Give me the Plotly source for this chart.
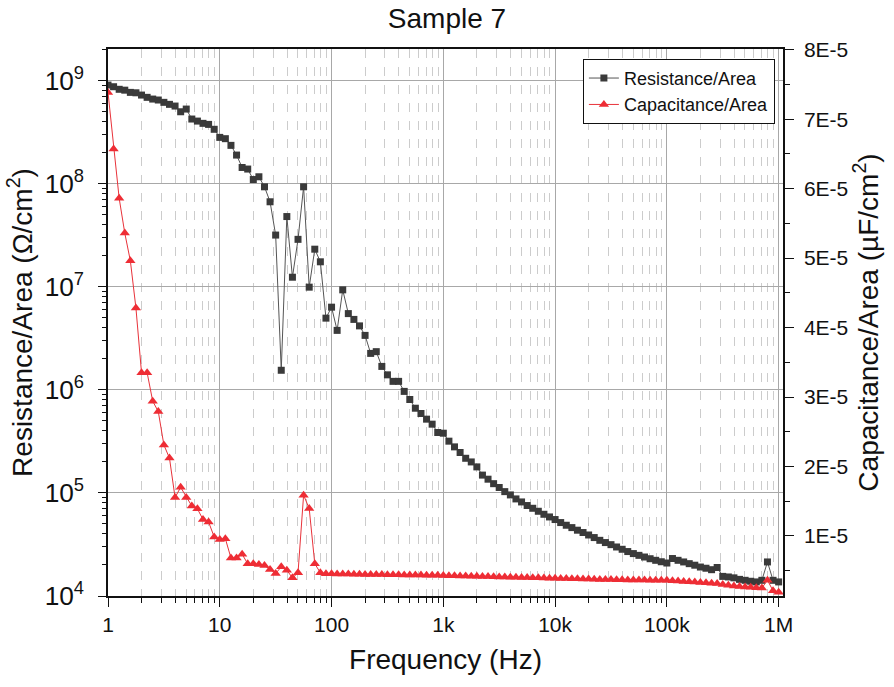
import plotly.graph_objects as go

# Frequency sweep (Hz), 20 points per decade
frequency = [
    1.0, 1.122, 1.259, 1.413, 1.585, 1.778, 1.995, 2.239, 2.512, 2.818,
    3.162, 3.548, 3.981, 4.467, 5.012, 5.623, 6.310, 7.079, 7.943, 8.913,
    10.0, 11.22, 12.59, 14.13, 15.85, 17.78, 19.95, 22.39, 25.12, 28.18,
    31.62, 35.48, 39.81, 44.67, 50.12, 56.23, 63.10, 70.79, 79.43, 89.13,
    100.0, 112.2, 125.9, 141.3, 158.5, 177.8, 199.5, 223.9, 251.2, 281.8,
    316.2, 354.8, 398.1, 446.7, 501.2, 562.3, 631.0, 707.9, 794.3, 891.3,
    1000.0, 1122.0, 1259.0, 1413.0, 1585.0, 1778.0, 1995.0, 2239.0, 2512.0, 2818.0,
    3162.0, 3548.0, 3981.0, 4467.0, 5012.0, 5623.0, 6310.0, 7079.0, 7943.0, 8913.0,
    10000.0, 11220.0, 12590.0, 14130.0, 15850.0, 17780.0, 19950.0, 22390.0, 25120.0, 28180.0,
    31620.0, 35480.0, 39810.0, 44670.0, 50120.0, 56230.0, 63100.0, 70790.0, 79430.0, 89130.0,
    100000.0, 112200.0, 125900.0, 141300.0, 158500.0, 177800.0, 199500.0, 223900.0, 251200.0, 281800.0,
    316200.0, 354800.0, 398100.0, 446700.0, 501200.0, 562300.0, 631000.0, 707900.0, 794300.0, 891300.0,
    1000000.0,
]

# Resistance/Area (Ohm/cm^2)
resistance = [
    9.08e8, 8.75e8, 8.26e8, 8.10e8, 7.71e8, 7.64e8, 7.26e8, 6.90e8, 6.64e8, 6.50e8,
    6.17e8, 5.90e8, 5.68e8, 5.00e8, 5.31e8, 4.25e8, 4.06e8, 3.86e8, 3.77e8, 3.38e8,
    2.82e8, 2.74e8, 2.36e8, 1.90e8, 1.44e8, 1.39e8, 1.10e8, 1.17e8, 9.35e7, 6.69e7,
    3.18e7, 1.55e6, 4.81e7, 1.24e7, 2.89e7, 9.35e7, 9.93e6, 2.32e7, 1.75e7, 4.97e6,
    6.35e6, 3.78e6, 9.35e6, 5.50e6, 4.83e6, 4.18e6, 3.38e6, 2.26e6, 2.35e6, 1.69e6,
    1.40e6, 1.21e6, 1.21e6, 9.67e5, 8.07e5, 6.64e5, 5.90e5, 5.20e5, 4.65e5, 3.86e5,
    3.80e5, 3.18e5, 2.80e5, 2.47e5, 2.17e5, 2.00e5, 1.79e5, 1.49e5, 1.36e5, 1.23e5,
    1.13e5, 1.03e5, 9.57e4, 8.75e4, 8.18e4, 7.55e4, 7.10e4, 6.64e4, 6.21e4, 5.85e4,
    5.52e4, 5.16e4, 4.86e4, 4.61e4, 4.35e4, 4.13e4, 3.91e4, 3.69e4, 3.47e4, 3.30e4,
    3.15e4, 2.99e4, 2.84e4, 2.70e4, 2.58e4, 2.48e4, 2.39e4, 2.30e4, 2.22e4, 2.15e4,
    2.09e4, 2.31e4, 2.22e4, 2.14e4, 2.06e4, 1.99e4, 1.91e4, 1.86e4, 1.80e4, 1.89e4,
    1.55e4, 1.53e4, 1.50e4, 1.45e4, 1.42e4, 1.39e4, 1.37e4, 1.42e4, 2.14e4, 1.42e4,
    1.37e4,
]

# Capacitance/Area (uF/cm^2), in units of 1E-5
capacitance_e5 = [
    7.385, 6.57, 5.86, 5.36, 4.96, 4.28, 3.35, 3.35, 2.94, 2.79,
    2.31, 2.12, 1.554, 1.70, 1.554, 1.43, 1.39, 1.237, 1.20, 0.986,
    0.95, 0.96, 0.683, 0.683, 0.736, 0.60, 0.60, 0.59, 0.575, 0.516,
    0.459, 0.555, 0.507, 0.396, 0.468, 1.587, 1.395, 0.60, 0.47, 0.455,
    0.455, 0.452, 0.450, 0.452, 0.448, 0.447, 0.446, 0.446, 0.444, 0.443,
    0.442, 0.441, 0.440, 0.439, 0.438, 0.437, 0.436, 0.434, 0.433, 0.432,
    0.430, 0.428, 0.426, 0.424, 0.422, 0.420, 0.418, 0.416, 0.414, 0.412,
    0.410, 0.408, 0.406, 0.404, 0.402, 0.400, 0.398, 0.396, 0.394, 0.392,
    0.390, 0.388, 0.386, 0.384, 0.382, 0.380, 0.378, 0.376, 0.374, 0.372,
    0.371, 0.370, 0.368, 0.367, 0.366, 0.365, 0.364, 0.363, 0.362, 0.361,
    0.360, 0.355, 0.350, 0.345, 0.340, 0.335, 0.330, 0.325, 0.320, 0.315,
    0.300, 0.290, 0.280, 0.272, 0.266, 0.260, 0.255, 0.250, 0.362, 0.210,
    0.190,
]
capacitance = [v * 1e-5 for v in capacitance_e5]

freq_ticks = [1, 10, 100, 1000, 10000, 100000, 1000000]
freq_ticktext = ["1", "10", "100", "1k", "10k", "100k", "1M"]
freq_minor_steps = [2, 3, 4, 5, 6, 7, 8, 9]
cap_ticks = [1e-5, 2e-5, 3e-5, 4e-5, 5e-5, 6e-5, 7e-5, 8e-5]
cap_ticktext = ["1E-5", "2E-5", "3E-5", "4E-5", "5E-5", "6E-5", "7E-5", "8E-5"]

freq_minor = [m * d for d in freq_ticks[:-1] for m in freq_minor_steps]

FONT = "Liberation Sans, Arial, sans-serif"
INK = "#111111"

fig = go.Figure()
fig.add_trace(go.Scatter(
    x=frequency, y=resistance, name="Resistance/Area", mode="lines+markers",
    line=dict(color="#555555", width=1),
    marker=dict(symbol="square", size=7, color="#3a3a3a"),
    yaxis="y",
))
fig.add_trace(go.Scatter(
    x=frequency, y=capacitance, name="Capacitance/Area", mode="lines+markers",
    line=dict(color="#e8323a", width=1),
    marker=dict(symbol="triangle-up", size=9, color="#ee2d35"),
    yaxis="y2",
))

fig.update_layout(
    width=894, height=687,
    margin=dict(l=108, r=111, t=49, b=91),
    paper_bgcolor="white", plot_bgcolor="white",
    font=dict(family=FONT, color=INK, size=21),
    title=dict(text="Sample 7", x=0.5, xanchor="center", y=1 - 18 / 687, yanchor="middle",
               font=dict(size=28, family=FONT, color=INK)),
    showlegend=True,
    legend=dict(x=0.988, y=0.982, xanchor="right", yanchor="top",
                bgcolor="white", bordercolor=INK, borderwidth=1,
                font=dict(size=18, family=FONT), tracegroupgap=0,
                itemwidth=30),
    xaxis=dict(
        type="log", range=[0, 6.039],
        tickmode="array", tickvals=freq_ticks, ticktext=freq_ticktext,
        ticks="outside", ticklen=9, tickwidth=1.2, tickcolor=INK,
        showline=True, linecolor=INK, linewidth=1.5, mirror=True,
        showgrid=True, gridcolor="#a8a8a8", gridwidth=1,
        minor=dict(tickmode="array", tickvals=freq_minor,
                   ticks="outside", ticklen=5, tickcolor=INK, showgrid=True,
                   gridcolor="#cccccc", griddash="dash", gridwidth=1),
        tickfont=dict(size=21, family=FONT),
        title=dict(text="Frequency (Hz)", font=dict(size=28, family=FONT), standoff=14),
        zeroline=False,
    ),
    yaxis=dict(
        type="log", range=[4, 9.308],
        tickmode="linear", tick0=0, dtick=1, exponentformat="power", showexponent="all",
        ticks="outside", ticklen=8, tickwidth=1.2, tickcolor=INK,
        showline=True, linecolor=INK, linewidth=1.5,
        showgrid=True, gridcolor="#a8a8a8", gridwidth=1,
        minor=dict(ticks="outside", ticklen=4, tickcolor=INK, showgrid=False),
        tickfont=dict(size=21, family=FONT),
        ticklabelstandoff=10,
        title=dict(text="Resistance/Area (Ω/cm<sup>2</sup>)", font=dict(size=28, family=FONT), standoff=4),
        zeroline=False,
    ),
    yaxis2=dict(
        overlaying="y", side="right", range=[1.35e-6, 8.01e-5],
        tickmode="array", tickvals=cap_ticks, ticktext=cap_ticktext,
        ticks="outside", ticklen=9, tickwidth=1.2, tickcolor=INK,
        showline=True, linecolor=INK, linewidth=1.5,
        showgrid=False,
        minor=dict(ticks="outside", ticklen=5, tickcolor=INK, dtick=0.5e-5, tick0=0, showgrid=False),
        tickfont=dict(size=21, family=FONT),
        ticklabelstandoff=6,
        title=dict(text="Capacitance/Area (µF/cm<sup>2</sup>)", font=dict(size=28, family=FONT), standoff=10),
        zeroline=False,
    ),
)

fig.write_html("out.html")
